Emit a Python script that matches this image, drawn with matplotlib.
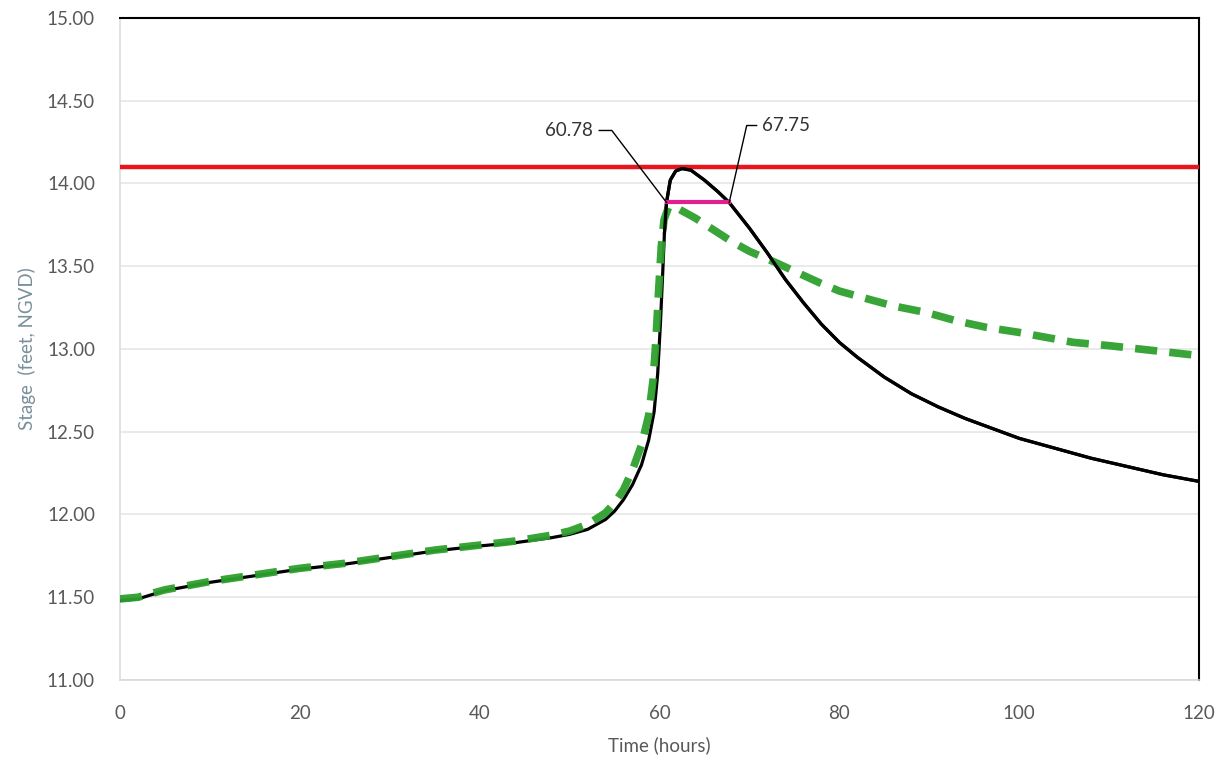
import matplotlib
matplotlib.use("Agg")
import matplotlib.pyplot as plt

plt.rcParams['font.family'] = ['Lato', 'DejaVu Sans']

# ---- data ----
time_black = [0, 2, 5, 10, 15, 20, 25, 30, 35, 40, 44, 48, 50, 52, 54, 55, 56, 57,
              58, 58.8, 59.4, 59.8, 60.1, 60.35, 60.55, 60.78, 61.2, 61.8, 62.5,
              63.5, 65, 66.5, 67.75, 70, 72, 74, 76, 78, 80, 82, 85, 88, 91, 94, 97,
              100, 104, 108, 112, 116, 120]
stage_black = [11.48, 11.49, 11.54, 11.59, 11.63, 11.67, 11.70, 11.74, 11.78, 11.81,
               11.83, 11.86, 11.88, 11.91, 11.97, 12.02, 12.09, 12.18,
               12.30, 12.45, 12.62, 12.85, 13.15, 13.45, 13.70, 13.885, 14.02, 14.075, 14.09,
               14.08, 14.02, 13.95, 13.885, 13.73, 13.58, 13.42, 13.28, 13.15, 13.04,
               12.95, 12.83, 12.73, 12.65, 12.58, 12.52, 12.46, 12.40, 12.34, 12.29,
               12.24, 12.20]

time_green = [0, 2, 5, 10, 15, 20, 25, 30, 35, 40, 44, 48, 50, 52, 54, 55, 56, 57,
              58, 58.8, 59.3, 59.6, 59.9, 60.2, 60.5, 61, 62, 63, 64, 66, 68, 70, 73,
              75, 77.8, 80, 83.3, 86, 89.7, 93, 96.4, 100, 103, 106, 110, 115, 120]
stage_green = [11.49, 11.50, 11.545, 11.595, 11.635, 11.675, 11.705, 11.745, 11.785, 11.815,
               11.84, 11.875, 11.90, 11.94, 12.01, 12.07, 12.15, 12.27,
               12.42, 12.60, 12.82, 13.05, 13.35, 13.62, 13.78, 13.855, 13.85, 13.82, 13.79,
               13.72, 13.65, 13.59, 13.52, 13.47, 13.40, 13.35, 13.30, 13.26, 13.22,
               13.17, 13.13, 13.10, 13.07, 13.04, 13.02, 12.99, 12.96]

flood_stage = 14.10
exceed_start, exceed_end = 60.78, 67.75
exceed_stage = 13.885

x_ticks = [0, 20, 40, 60, 80, 100, 120]
y_ticks = [11.0, 11.5, 12.0, 12.5, 13.0, 13.5, 14.0, 14.5, 15.0]

# ---- figure ----
fig = plt.figure(figsize=(12.24, 7.69), dpi=100)
ax = fig.add_axes([0.098, 0.1157, 0.8816, 0.861])

ax.set_xlim(0, 120)
ax.set_ylim(11, 15)
ax.set_xticks(x_ticks)
ax.set_yticks(y_ticks)
ax.set_yticklabels([f"{v:.2f}" for v in y_ticks])
ax.tick_params(length=0, labelsize=13.5, labelcolor='#595959')
ax.tick_params(axis='x', pad=18)
ax.tick_params(axis='y', pad=18)
ax.grid(axis='y', color='#e6e6e6', linewidth=1.2)
ax.set_axisbelow(True)

for s in ['top', 'right']:
    ax.spines[s].set_color('black')
    ax.spines[s].set_linewidth(1.5)
ax.spines['left'].set_color('#d9dde3')
ax.spines['bottom'].set_color('#d9d9d9')
ax.spines['left'].set_linewidth(1.2)
ax.spines['bottom'].set_linewidth(1.2)

ax.axhline(flood_stage, color='#e8161c', linewidth=3.2, zorder=3)
ax.plot(time_black, stage_black, color='black', linewidth=2.3, zorder=4)
ax.plot(time_green, stage_green, color='#2ea02e', linewidth=5.5, linestyle=(0, (2.9, 1.6)),
        zorder=5, alpha=0.95)
ax.plot(time_black[24:], stage_black[24:], color='black', linewidth=2.3, zorder=6)
ax.plot([exceed_start, exceed_end], [exceed_stage, exceed_stage], color='#e0208c',
        linewidth=3, zorder=7)

# annotations with leader lines
ax.plot([53.3, 54.7, exceed_start], [14.32, 14.32, exceed_stage], color='black',
        linewidth=1, zorder=8)
ax.text(52.6, 14.32, f"{exceed_start:.2f}", ha='right', va='center', fontsize=13.5,
        color='#333333')
ax.plot([exceed_end, 69.7, 70.8], [exceed_stage, 14.35, 14.35], color='black',
        linewidth=1, zorder=8)
ax.text(71.4, 14.35, f"{exceed_end:.2f}", ha='left', va='center', fontsize=13.5,
        color='#333333')

ax.set_xlabel("Time (hours)", fontsize=13.5, color='#595959', labelpad=10)
ax.set_ylabel("Stage  (feet, NGVD)", fontsize=13.5, color='#7a8f9c', labelpad=8)

fig.savefig("out.png", dpi=100, facecolor='white')
